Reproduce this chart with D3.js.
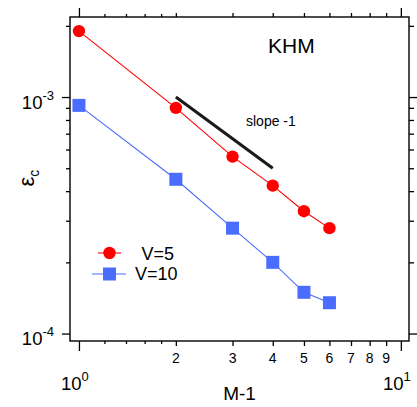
<!DOCTYPE html>
<html><head><meta charset="utf-8">
<script src="https://cdn.jsdelivr.net/npm/d3@7"></script>
<style>
body{margin:0;background:#fff;}
svg{display:block;font-family:"Liberation Sans",Arial,sans-serif;}
.ax path{display:none;}
.ax line{stroke:#000;stroke-width:1.3;}
</style></head>
<body><svg id="c" width="417" height="407"></svg>
<script>
const xVals = [1, 2, 3, 4, 5, 6];
const v5 = [1.9e-3, 0.9e-3, 0.56e-3, 0.422e-3, 0.329e-3, 0.279e-3];
const v10 = [0.922e-3, 0.449e-3, 0.279e-3, 0.2e-3, 0.1494e-3, 0.135e-3];
const seriesNames = ["V=5", "V=10"];
const slopeLine = [[2, 1e-3], [4, 0.5e-3]];
const xMajor = [1, 10];
const xMid = [2, 3, 4, 5, 6, 7, 8, 9];
const xMinor = [1.2, 1.4, 1.6, 1.8];
const yMajor = [1e-4, 1e-3];
const yMinor = [2e-4, 3e-4, 4e-4, 5e-4, 6e-4, 7e-4, 8e-4, 9e-4, 2e-3];
const xMajorLabels = ["0", "1"];
const yMajorLabels = ["-4", "-3"];

const svg = d3.select("#c");
const L = 70, R = 409, T = 17, B = 341;
const x = d3.scaleLog().domain([0.938, 10.6]).range([L, R]);
const y = d3.scaleLog().domain([0.93e-4, 2.18e-3]).range([B, T]);

function ax(gen, tx, ty) {
  svg.append("g").attr("class", "ax").attr("transform", `translate(${tx},${ty})`).call(gen);
}
// bottom
ax(d3.axisBottom(x).tickValues(xMajor).tickSize(10).tickFormat(""), 0, B);
ax(d3.axisBottom(x).tickValues(xMid).tickSize(5).tickFormat(""), 0, B);
ax(d3.axisBottom(x).tickValues(xMinor).tickSize(3).tickFormat(""), 0, B);
// top
ax(d3.axisTop(x).tickValues(xMajor).tickSize(9).tickFormat(""), 0, T);
ax(d3.axisTop(x).tickValues(xMid).tickSize(4).tickFormat(""), 0, T);
ax(d3.axisTop(x).tickValues(xMinor).tickSize(3).tickFormat(""), 0, T);
// left
ax(d3.axisLeft(y).tickValues(yMajor).tickSize(8).tickFormat(""), L, 0);
ax(d3.axisLeft(y).tickValues(yMinor).tickSize(4).tickFormat(""), L, 0);
// right
ax(d3.axisRight(y).tickValues(yMajor).tickSize(8).tickFormat(""), R, 0);
ax(d3.axisRight(y).tickValues(yMinor).tickSize(5).tickFormat(""), R, 0);

// frame
svg.append("rect").attr("x", L).attr("y", T).attr("width", R - L).attr("height", B - T)
  .attr("fill", "none").attr("stroke", "#000").attr("stroke-width", 1.4);

// x labels
xMid.forEach(v => {
  svg.append("text").attr("x", x(v)).attr("y", 362.5).attr("text-anchor", "middle")
    .attr("font-size", 14).text(v);
});
xMajor.forEach((v, i) => {
  const t = svg.append("text").attr("x", x(v) - 4).attr("y", 390).attr("text-anchor", "middle")
    .attr("font-size", 18.5);
  t.append("tspan").text("10");
  t.append("tspan").attr("font-size", 13).attr("dy", -9).text(xMajorLabels[i]);
});
yMajor.forEach((v, i) => {
  const t = svg.append("text").attr("x", 54).attr("y", y(v) + 11.5).attr("text-anchor", "end")
    .attr("font-size", 18.5);
  t.append("tspan").text("10");
  t.append("tspan").attr("font-size", 13).attr("dy", -9).text(yMajorLabels[i]);
});

// axis titles
svg.append("text").attr("x", (L + R) / 2).attr("y", 400).attr("text-anchor", "middle")
  .attr("font-size", 19).text("M-1");
const yt = svg.append("text").attr("transform", "translate(33.5,186.5) rotate(-90)").attr("font-size", 22);
yt.append("tspan").text("ε");
yt.append("tspan").attr("font-size", 14).attr("dy", 5).text("c");

// slope line
svg.append("path").datum(slopeLine)
  .attr("d", d3.line().x(d => x(d[0])).y(d => y(d[1])))
  .attr("stroke", "#1a1a1a").attr("stroke-width", 3).attr("fill", "none");
svg.append("text").attr("x", 246).attr("y", 126).attr("font-size", 14).text("slope -1");
svg.append("text").attr("x", 268).attr("y", 52.7).attr("font-size", 21).text("KHM");

// series
const red = "#ff0000", blue = "#4a6cff";
const line = d3.line().x((d, i) => x(xVals[i])).y(d => y(d));
svg.append("path").datum(v5).attr("d", line).attr("stroke", red).attr("stroke-width", 1.1).attr("fill", "none");
svg.append("path").datum(v10).attr("d", line).attr("stroke", blue).attr("stroke-width", 1.1).attr("fill", "none");
svg.selectAll(".c5").data(v5).enter().append("circle")
  .attr("cx", (d, i) => x(xVals[i])).attr("cy", d => y(d)).attr("r", 6.2).attr("fill", red);
svg.selectAll(".s10").data(v10).enter().append("rect")
  .attr("x", (d, i) => x(xVals[i]) - 6.5).attr("y", d => y(d) - 6.5)
  .attr("width", 13).attr("height", 13).attr("fill", blue);

// legend
svg.append("line").attr("x1", 98).attr("x2", 121).attr("y1", 253).attr("y2", 253).attr("stroke", red).attr("stroke-width", 1.1);
svg.append("circle").attr("cx", 109.5).attr("cy", 253).attr("r", 6.2).attr("fill", red);
svg.append("text").attr("x", 141.5).attr("y", 259.5).attr("font-size", 18).text(seriesNames[0]);
svg.append("line").attr("x1", 92).attr("x2", 126).attr("y1", 274).attr("y2", 274).attr("stroke", blue).attr("stroke-width", 1.1);
svg.append("rect").attr("x", 103).attr("y", 267.5).attr("width", 13).attr("height", 13).attr("fill", blue);
svg.append("text").attr("x", 135).attr("y", 280.3).attr("font-size", 18).text(seriesNames[1]);
</script></body></html>
